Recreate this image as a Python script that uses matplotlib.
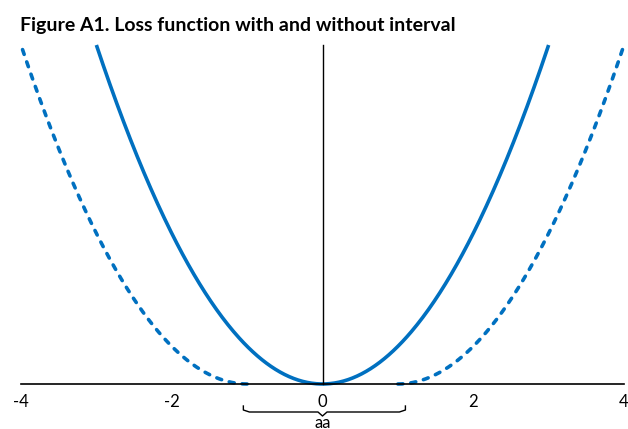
import numpy as np
import matplotlib
matplotlib.use("Agg")
import matplotlib.pyplot as plt

plt.rcParams['font.family'] = ['Lato', 'DejaVu Sans']

title = "Figure A1. Loss function with and without interval"
xticks = [-4, -2, 0, 2, 4]
xlim = (-4, 4)
solid_range = (-3, 3)
dashed_range = (-4, 4)
interval = (-1.05, 1.1)
interval_label = "aa"
color = "#0070C0"

fig = plt.figure(figsize=(6.28, 4.29), dpi=100)
ax = fig.add_axes([21/628, 45/429, 603/628, 339/429])

xs = np.linspace(solid_range[0], solid_range[1], 400)
ax.plot(xs, xs**2, color=color, lw=2.6, solid_capstyle='butt', clip_on=False)

for sgn in (-1, 1):
    xd = np.linspace(1, dashed_range[1], 300)
    ax.plot(sgn*xd, (xd-1)**2, color=color, lw=2.6, ls=(0, (1.4, 2.2)),
            dash_capstyle='round', clip_on=False)

ax.set_xlim(*xlim)
ax.set_ylim(0, 9)
for s in ['top', 'right']:
    ax.spines[s].set_visible(False)
ax.spines['left'].set_position(('data', 0))
ax.spines['bottom'].set_position(('data', 0))
ax.spines['left'].set_linewidth(1.0)
ax.spines['bottom'].set_linewidth(1.2)
ax.set_yticks([])
ax.set_xticks(xticks)
ax.set_xticklabels([str(t) for t in xticks], fontsize=12)
ax.tick_params(axis='x', length=0, pad=7)

# brace
tr = ax.get_xaxis_transform()
h = 339.0
def yp(px):
    return -(px - 384) / h
x0, x1 = interval
xm = 0.0
bx = [x0, x0, x0+0.08, xm-0.06, xm, xm+0.06, x1-0.08, x1, x1]
by = [yp(406), yp(410), yp(412), yp(412), yp(416), yp(412), yp(412), yp(410), yp(406)]
ax.plot(bx, by, color='black', lw=1.0, transform=tr, clip_on=False)
ax.text(xm, yp(427.5), interval_label, transform=tr, ha='center', va='baseline', fontsize=12)

fig.text(20/628, 1-25/429, title, fontsize=14, fontweight='bold', ha='left', va='center')

fig.savefig("out.png", dpi=100)
